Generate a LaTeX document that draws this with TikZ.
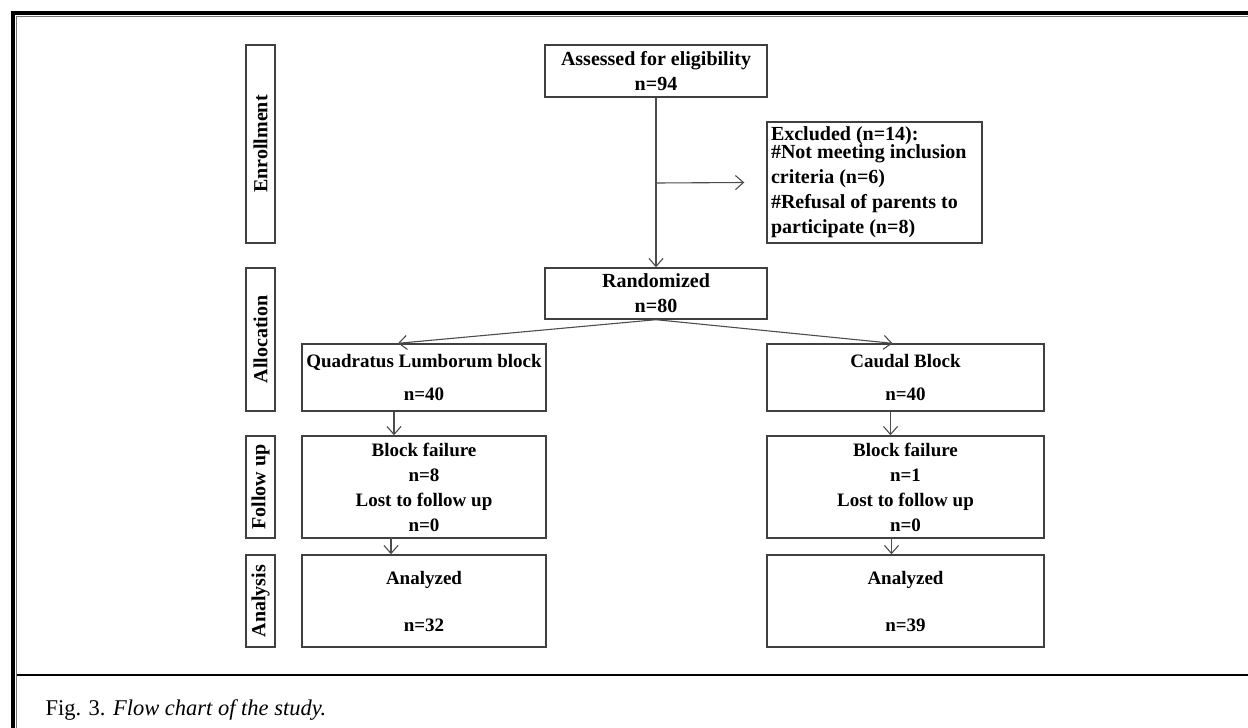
\documentclass[tikz,border=0pt]{standalone}
\usepackage{fontspec}
\setmainfont{Liberation Serif}
\usetikzlibrary{arrows.meta}

\begin{document}
\begin{tikzpicture}[x=1pt,y=-1pt,
	box/.style={draw=black!75,line width=1.4pt,inner sep=0pt,align=center,
		font=\bfseries\fontsize{19}{25}\selectfont},
	topbox/.style={box,minimum width=222pt,font=\bfseries\fontsize{20}{25}\selectfont},
	armbox/.style={box,minimum width=244pt},
	phase/.style={draw=black!75,line width=1.4pt,inner sep=0pt,rotate=90,
		minimum height=29pt,font=\bfseries\fontsize{20}{24}\selectfont},
	arr/.style={draw=black!70,line width=1.1pt,-{Straight Barb[length=8pt,width=14pt]}}]
	\useasboundingbox (0,0) rectangle (1248,728);
	% frame and rule
	\draw[line width=4pt] (13,728) -- (13,13) -- (1248,13);
	\draw[black!55,line width=1.5pt] (16.5,728) -- (16.5,16.5) -- (1248,16.5);
	\draw[line width=2pt] (16.5,674.5) -- (1248,674.5);
	% phases
	\foreach \name/\y/\h/\txt in {enrol/144/198/Enrollment,alloc/339.5/143/Allocation,
		follow/487/102/Follow up,analysis/601/92/Analysis}
	{
		\node[phase,minimum width=\h pt] (\name) at (260.5,\y) {\txt};
	}
	% boxes
	\node[topbox,minimum height=52pt] (assess) at (656,71) {Assessed for eligibility\\n=94};
	\node[box,minimum width=215pt,minimum height=121pt,text width=207pt,align=flush left,
		font=\bfseries\fontsize{20}{25}\selectfont] (excl) at (874.5,182.5)
		{Excluded (n=14):\\[-7pt]\#Not meeting inclusion\\criteria (n=6)\\\#Refusal of parents to\\participate (n=8)};
	\node[topbox,minimum height=51pt] (rand) at (656,293.5) {Randomized\\n=80};
	\node[armbox,minimum height=67pt] (ql) at (424,377.5) {Quadratus Lumborum block\\[8pt]n=40};
	\node[box,minimum width=277pt,minimum height=67pt] (caudal) at (905.5,377.5) {Caudal Block\\[8pt]n=40};
	\node[armbox,minimum height=102pt] (qlfu) at (424,487) {Block failure\\n=8\\Lost to follow up\\n=0};
	\node[box,minimum width=277pt,minimum height=102pt] (cafu) at (905.5,487) {Block failure\\n=1\\Lost to follow up\\n=0};
	\node[armbox,minimum height=92pt] (qlan) at (424,601) {Analyzed\\[22pt]n=32};
	\node[box,minimum width=277pt,minimum height=92pt] (caan) at (905.5,601) {Analyzed\\[22pt]n=39};
	\coordinate (split) at (656,183);
	% arrows
	\draw[arr] (assess.south) -- (rand.north);
	\draw[arr] (split) -- ([xshift=-22pt]excl.west);
	\draw[arr] (rand.south) -- ([xshift=-26pt]ql.north);
	\draw[arr] (rand.south) -- ([xshift=-13pt]caudal.north);
	\draw[arr] ([xshift=-30pt]ql.south) -- ([xshift=-30pt]qlfu.north);
	\draw[arr] ([xshift=-15pt]caudal.south) -- ([xshift=-15pt]cafu.north);
	\draw[arr] ([xshift=-33pt,yshift=2pt]qlfu.south) -- ([xshift=-33pt]qlan.north);
	\draw[arr] ([xshift=-14pt,yshift=2pt]cafu.south) -- ([xshift=-14pt]caan.north);
	% caption
	\node[anchor=base west,font=\fontsize{22.5}{26}\selectfont] (cap) at (42,715)
		{Fig. 3. \textit{Flow chart of the study.}};
\end{tikzpicture}
\end{document}
